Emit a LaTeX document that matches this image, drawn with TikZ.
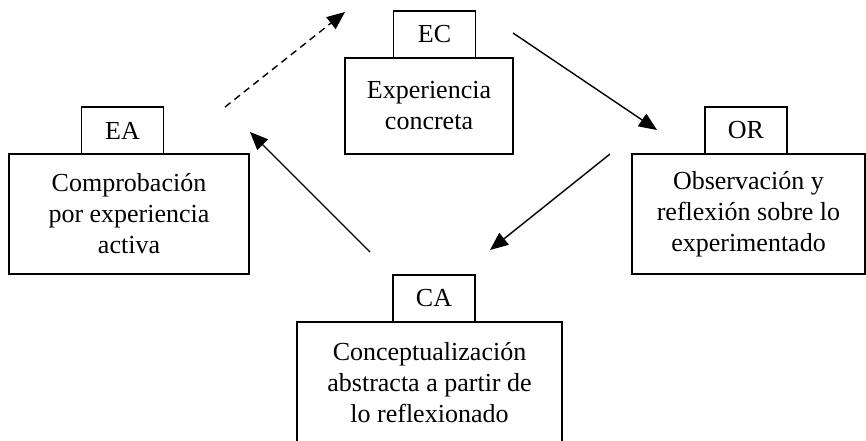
\documentclass[tikz,border=0pt]{standalone}
\usepackage{fontspec}
\setmainfont{Liberation Serif}
\usetikzlibrary{arrows.meta}
\newcommand{\stagefont}{\fontsize{26}{31}\selectfont}

\begin{document}
\begin{tikzpicture}[x=1pt,y=-1pt,line width=1.4pt]
    \tikzstyle{stage}=[draw,line width=1.8pt,align=center,inner sep=0pt,minimum height=120pt,font=\stagefont]
    \tikzstyle{tag}=[draw,line width=1.8pt,inner sep=0pt,minimum width=82pt,minimum height=47pt,font=\stagefont]
    \tikzstyle{flow}=[-{Triangle[length=18pt,width=15pt]},line width=1.4pt]
    \useasboundingbox (0,0) rectangle (866,440);

    % the four stages of the cycle
    \node[stage,minimum width=240pt] (EA) at (129,214) {Comprobación\\por experiencia\\activa};
    \node[stage,minimum width=168pt,minimum height=96pt] (EC) at (429,106) {Experiencia\\concreta};
    \node[stage,minimum width=233pt] (OR) at (748.5,214) {Observación y\\reflexión sobre lo\\experimentado};
    \node[stage,minimum width=265pt,minimum height=121pt] (CA) at (429.5,382.5) {Conceptualización\\abstracta a partir de\\lo reflexionado};

    % short labels on top of each box
    \node[tag] (EA-tag) at (122.5,130.5) {EA};
    \node[tag] (EC-tag) at (434.5,34.5) {EC};
    \node[tag] (OR-tag) at (746,130.5) {OR};
    \node[tag] (CA-tag) at (434,298.5) {CA};

    % free ends of the arrows
    \coordinate (EA-out) at (225,107);
    \coordinate (EC-in) at (345,12);
    \coordinate (EC-out) at (513,33);
    \coordinate (OR-in) at (657,130);
    \coordinate (OR-out) at (610,154);
    \coordinate (CA-in) at (490,250);
    \coordinate (CA-out) at (370,252);
    \coordinate (EA-in) at (250,132);

    \path[flow,dash pattern=on 7pt off 5pt] (EA-out) edge (EC-in);
    \path[flow] (EC-out) edge (OR-in);
    \path[flow] (OR-out) edge (CA-in);
    \path[flow] (CA-out) edge (EA-in);
\end{tikzpicture}
\end{document}
